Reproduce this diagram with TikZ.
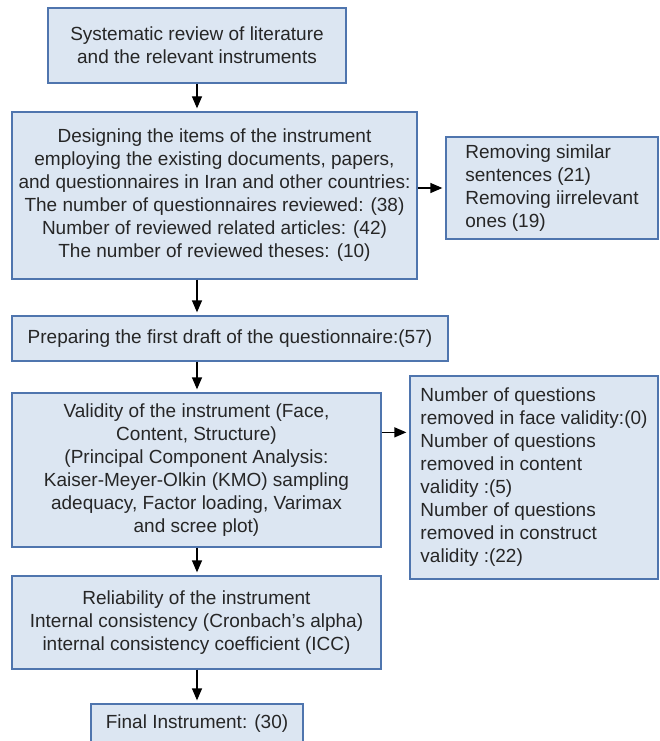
\documentclass[tikz,border=0pt]{standalone}
\usepackage{fontspec}
\setmainfont{Liberation Sans}
\usetikzlibrary{arrows.meta}

\definecolor{boxfill}{HTML}{DCE6F2}
\definecolor{boxline}{HTML}{4F75AE}
\definecolor{boxtext}{HTML}{262626}

\begin{document}
\begin{tikzpicture}[x=1pt, y=-1pt,
  every node/.style={font=\fontsize{19}{23}\selectfont, text=boxtext},
  box/.style={draw=boxline, fill=boxfill, line width=1.3pt, align=center, inner sep=0pt},
  sidebox/.style={box, align=left},
  arrow/.style={line width=1.3pt, -{Triangle[length=12pt, width=10pt]}, shorten >=3pt}]

  % Marco
  \clip (0,0) rectangle (659,741);

  % Columna principal
  \node[box, minimum width=298, minimum height=75] (lit) at (197,45.5)
    {Systematic review of literature\\and the relevant instruments};
  \node[box, minimum width=405, minimum height=167] (design) at (214.5,195.5)
    {Designing the items of the instrument\\employing the existing documents, papers,\\and questionnaires in Iran and other countries:\\The number of questionnaires reviewed: (38)\\Number of reviewed related articles: (42)\\The number of reviewed theses: (10)};
  \node[box, minimum width=436, minimum height=45] (draft) at (230,338.5)
    {Preparing the first draft of the questionnaire:(57)};
  \node[box, minimum width=369, minimum height=154] (valid) at (196.5,470)
    {Validity of the instrument (Face,\\Content, Structure)\\(Principal Component Analysis:\\Kaiser-Meyer-Olkin (KMO) sampling\\adequacy, Factor loading, Varimax\\and scree plot)};
  \node[box, minimum width=369, minimum height=93] (reliab) at (196.5,622.5)
    {Reliability of the instrument\\Internal consistency (Cronbach’s alpha)\\internal consistency coefficient (ICC)};
  \node[box, minimum width=212, minimum height=39] (final) at (197,723.5)
    {Final Instrument: (30)};

  % Cajas laterales
  \node[sidebox, minimum width=212, minimum height=102] (remove1) at (552,188)
    {Removing similar\\sentences (21)\\Removing iirrelevant\\ones (19)};
  \node[sidebox, minimum width=248, minimum height=203] (remove2) at (534,477.5)
    {Number of questions\\removed in face validity:(0)\\Number of questions\\removed in content\\validity :(5)\\Number of questions\\removed in construct\\validity :(22)};

  % Flechas
  \draw[arrow] (lit) -- (lit |- design.north);
  \draw[arrow] (design.south -| lit) -- (draft.north -| lit);
  \draw[arrow] (draft.south -| lit) -- (valid.north -| lit);
  \draw[arrow] (valid.south -| lit) -- (reliab.north -| lit);
  \draw[arrow] (reliab.south -| lit) -- (final.north -| lit);
  \draw[arrow] (design.east |- remove1) -- (remove1.west);
  \draw[arrow] ([yshift=-40pt]valid.north east) -- ([yshift=-40pt]valid.north east -| remove2.west);
\end{tikzpicture}
\end{document}
